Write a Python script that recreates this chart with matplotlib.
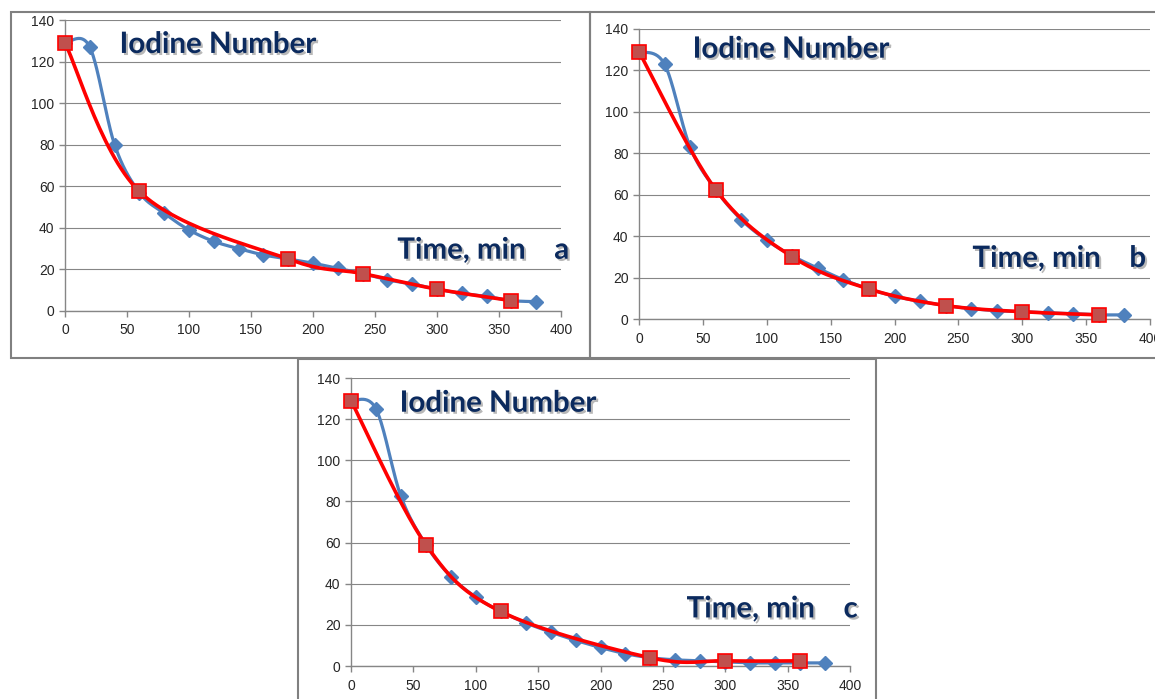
import numpy as np
import matplotlib
matplotlib.use("Agg")
import matplotlib.pyplot as plt
import matplotlib.patheffects as pe
from matplotlib.patches import Rectangle

# time axis, minutes
t_blue = [0, 20, 40, 60, 80, 100, 120, 140, 160, 180, 200, 220, 240, 260, 280, 300, 320, 340, 360, 380]

blue_a = [129, 127, 80, 57, 47, 39, 33.5, 30, 27, 25, 23, 20.5, 18, 15, 13, 10.5, 8.5, 7, 5, 4.5]
red_t_a = [0, 60, 180, 240, 300, 360]
red_a = [129, 57.5, 25, 18, 10.5, 5]

blue_b = [129, 123, 83, 62.5, 48, 38, 30.5, 24.5, 19, 14.5, 11, 8.5, 6.5, 5, 4, 3.5, 3, 2.5, 2, 2]
red_t_b = [0, 60, 120, 180, 240, 300, 360]
red_b = [129, 62.5, 30, 14.5, 6.5, 3.5, 2]

blue_c = [129, 125, 82.5, 59, 43.5, 33.5, 26.5, 21, 16.5, 12.5, 9, 6, 4, 3, 2.5, 2, 1.5, 1.5, 1.5, 1.5]
red_t_c = [0, 60, 120, 240, 300, 360]
red_c = [129, 59, 26.5, 4, 2.5, 2.5]

labels = ["a", "b", "c"]

BLUE = "#4f81bd"
RED = "#ff0000"
RED_FACE = "#c0504d"
NAVY = "#0b2a5e"
GRAY = "#868686"


def smooth(x, y, n=30):
    # excel style smoothed line (bezier, control points at 1/6 of neighbour diff)
    x = np.asarray(x, float)
    y = np.asarray(y, float)
    px = np.concatenate([[x[0]], x, [x[-1]]])
    py = np.concatenate([[y[0]], y, [y[-1]]])
    xs, ys = [], []
    s = np.linspace(0, 1, n)
    for i in range(len(x) - 1):
        p0 = np.array([px[i + 1], py[i + 1]])
        p3 = np.array([px[i + 2], py[i + 2]])
        c1 = p0 + (np.array([px[i + 2], py[i + 2]]) - np.array([px[i], py[i]])) / 6
        c2 = p3 - (np.array([px[i + 3], py[i + 3]]) - np.array([px[i + 1], py[i + 1]])) / 6
        b = ((1 - s) ** 3)[:, None] * p0 + (3 * (1 - s) ** 2 * s)[:, None] * c1 \
            + (3 * (1 - s) * s ** 2)[:, None] * c2 + (s ** 3)[:, None] * p3
        xs.append(b[:, 0])
        ys.append(b[:, 1])
    return np.concatenate(xs), np.concatenate(ys)


fig = plt.figure(figsize=(11.55, 6.99), dpi=100)

# panel frames (figure pixels: x0, y0 top, x1, y1 bottom)
frames = [(11, 12, 590, 358), (590, 12, 1165, 358), (298, 359, 876, 710)]
for x0, y0, x1, y1 in frames:
    fig.patches.append(Rectangle((x0 / 1155, 1 - y1 / 699), (x1 - x0) / 1155, (y1 - y0) / 699,
                                 transform=fig.transFigure, fill=False, edgecolor="#808080", lw=1.5))

axes_pos = [
    [65 / 1155, 1 - 311 / 699, 496 / 1155, 291 / 699],
    [639 / 1155, 1 - 319 / 699, 511 / 1155, 290 / 699],
    [351 / 1155, 1 - 666 / 699, 499 / 1155, 288 / 699],
]
blues = [blue_a, blue_b, blue_c]
reds = [(red_t_a, red_a), (red_t_b, red_b), (red_t_c, red_c)]
title_xy = [(44, 128), (42, 130), (39, 127.5)]
time_xy = [(268, 29), (261, 29), (269, 27.5)]

shadow = [pe.SimplePatchShadow(offset=(1.5, -1.5), shadow_rgbFace="#8a8a8a", alpha=0.6), pe.Normal()]

for k in range(3):
    ax = fig.add_axes(axes_pos[k])
    for sp in ["top", "right"]:
        ax.spines[sp].set_visible(False)
    for sp in ["left", "bottom"]:
        ax.spines[sp].set_color(GRAY)
        ax.spines[sp].set_linewidth(1)
    ax.set_xlim(0, 400)
    ax.set_ylim(0, 140)
    ax.set_xticks(range(0, 401, 50))
    ax.set_yticks(range(0, 141, 20))
    ax.tick_params(colors=GRAY, labelcolor="#262626", labelsize=10, length=4, width=1,
                   direction="out")
    ax.tick_params(axis="x", pad=5)
    for tl in ax.get_xticklabels() + ax.get_yticklabels():
        tl.set_family("Liberation Sans")
    ax.yaxis.grid(True, color=GRAY, lw=0.8)
    ax.set_axisbelow(True)

    sx, sy = smooth(t_blue, blues[k])
    ax.plot(sx, sy, color=BLUE, lw=2.3, clip_on=False, zorder=3)
    ax.plot(t_blue, blues[k], ls="none", marker="D", ms=7, color=BLUE, clip_on=False, zorder=4)

    rt, rv = reds[k]
    sx, sy = smooth(rt, rv)
    ax.plot(sx, sy, color=RED, lw=2.6, clip_on=False, zorder=5)
    ax.plot(rt, rv, ls="none", marker="s", ms=10, mfc=RED_FACE, mec=RED, mew=1.2,
            clip_on=False, zorder=6)

    ax.text(title_xy[k][0], title_xy[k][1], "Iodine Number", family="Lato", weight="bold",
            fontsize=21.2, color=NAVY, va="center", ha="left", path_effects=shadow, zorder=7)
    ax.text(time_xy[k][0], time_xy[k][1], "Time, min    " + labels[k], family="Lato",
            weight="bold", fontsize=21.2, color=NAVY, va="center", ha="left",
            path_effects=shadow, zorder=7, clip_on=False)

fig.savefig("out.png", dpi=100)
